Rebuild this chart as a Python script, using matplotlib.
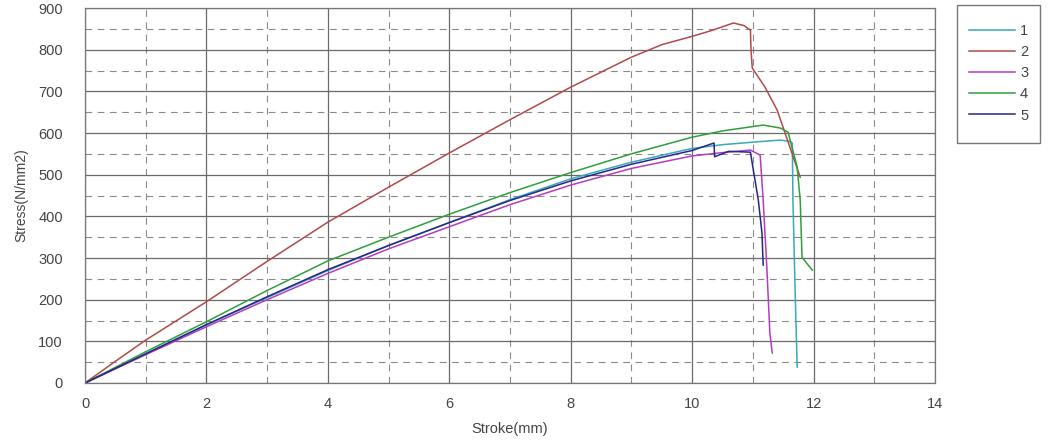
import matplotlib
matplotlib.use("Agg")
import matplotlib.pyplot as plt
from matplotlib.ticker import MultipleLocator
from matplotlib.patches import Rectangle

plt.rcParams['font.family'] = ['Liberation Sans', 'DejaVu Sans']

labels = ["1", "2", "3", "4", "5"]
colors = ["#3aa8b8", "#b04a4a", "#b43cc0", "#2f9e3c", "#26268a"]

x1 = [0, 1, 2, 3, 4, 5, 6, 7, 8, 9, 10, 10.5, 11.0, 11.45, 11.6, 11.65, 11.66, 11.70, 11.73]
y1 = [0, 70, 140, 205, 270, 330, 385, 440, 490, 530, 563, 572, 578, 583, 580, 576, 439, 199, 38]

x2 = [0, 0.5, 1, 2, 3, 4, 5, 6, 7, 8, 9, 9.5, 10, 10.3, 10.68, 10.85, 10.96, 10.97, 10.99, 11.2, 11.4, 11.61, 11.78]
y2 = [0, 52, 103, 195, 292, 386, 470, 552, 632, 710, 782, 812, 832, 845, 864, 858, 847, 799, 756, 710, 655, 566, 494]

x3 = [0, 1, 2, 3, 4, 5, 6, 7, 8, 9, 10, 10.5, 10.96, 11.12, 11.17, 11.23, 11.28, 11.32]
y3 = [0, 68, 135, 200, 263, 322, 375, 428, 475, 515, 545, 553, 559, 547, 439, 278, 120, 72]

x4 = [0, 1, 2, 3, 4, 5, 6, 7, 8, 9, 10, 10.5, 11.17, 11.45, 11.58, 11.73, 11.78, 11.81, 11.9, 11.98]
y4 = [0, 75, 147, 222, 293, 350, 405, 457, 505, 550, 590, 605, 619, 612, 602, 518, 439, 302, 285, 271]

x5 = [0, 1, 2, 3, 4, 5, 6, 7, 8, 9, 10, 10.36, 10.37, 10.6, 10.96, 11.0, 11.09, 11.15, 11.17]
y5 = [0, 70, 140, 207, 272, 330, 385, 438, 485, 525, 558, 576, 543, 556, 554, 518, 439, 360, 283]

xs = [x1, x2, x3, x4, x5]
ys = [y1, y2, y3, y4, y5]

W, H = 1048, 445
fig = plt.figure(figsize=(W / 100, H / 100), dpi=100)
ax = fig.add_axes([85 / W, 62 / H, 850 / W, 375 / H])

for x, y, c, lab in zip(xs, ys, colors, labels):
    ax.plot(x, y, color=c, lw=1.1, label=lab)

ax.set_xlim(0, 14)
ax.set_ylim(0, 900)
ax.xaxis.set_major_locator(MultipleLocator(2))
ax.xaxis.set_minor_locator(MultipleLocator(1))
ax.yaxis.set_major_locator(MultipleLocator(100))
ax.yaxis.set_minor_locator(MultipleLocator(50))
ax.grid(which='major', color='#6a6a6a', lw=0.9, ls='-')
ax.grid(which='minor', color='#8a8a8a', lw=0.8, ls=(0, (6, 5)))
ax.set_axisbelow(True)
ax.tick_params(which='both', length=0, labelsize=10.5, labelcolor='#444444')
ax.tick_params(axis='y', pad=16)
ax.tick_params(axis='x', pad=10)
for s in ax.spines.values():
    s.set_color('#777777')
    s.set_linewidth(0.9)

ax.set_xlabel("Stroke(mm)", fontsize=10.5, color='#444444', labelpad=8)
ax.set_ylabel("Stress(N/mm2)", fontsize=10, color='#444444', labelpad=7)

# legend box
fig.patches.append(Rectangle((957 / W, 1 - 143 / H), 83 / W, 138 / H,
                             transform=fig.transFigure, facecolor='white',
                             edgecolor='#777777', lw=1.0))
leg = fig.legend(loc='upper left', bbox_to_anchor=(969 / W, 1 - 24 / H),
                 fontsize=10.5, frameon=False,
                 handlelength=3.15, handletextpad=0.35, labelspacing=0.49,
                 borderpad=0, borderaxespad=0)
for t in leg.get_texts():
    t.set_color('#444444')

fig.savefig("out.png", dpi=100)
